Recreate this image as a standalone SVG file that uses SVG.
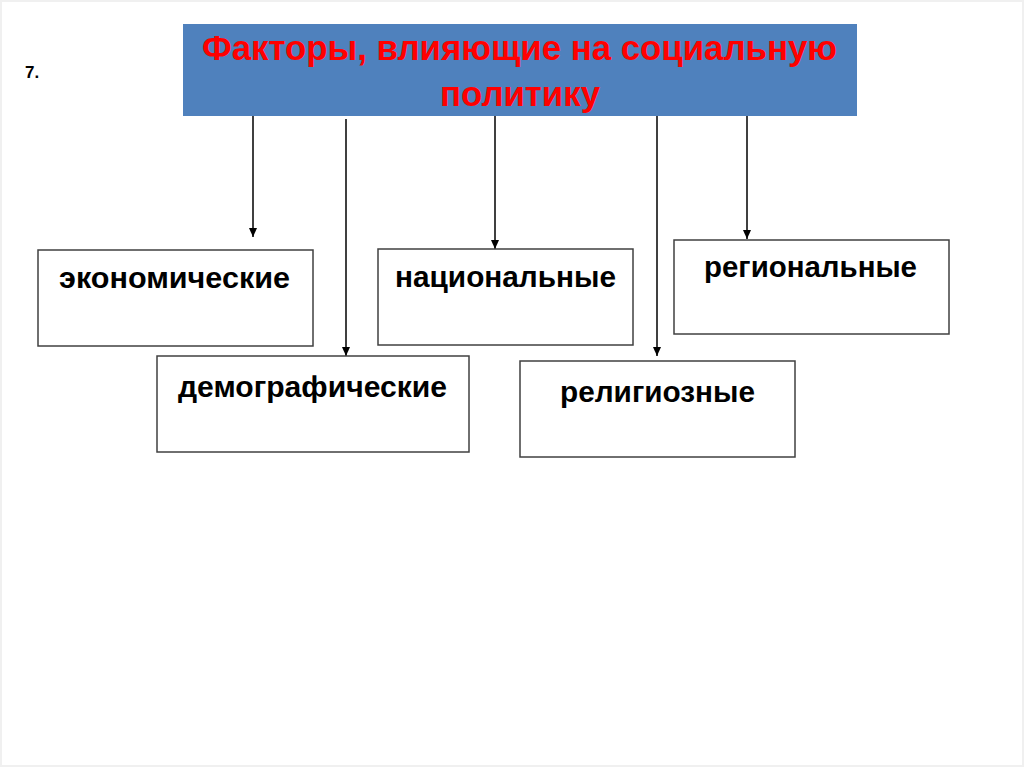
<svg xmlns="http://www.w3.org/2000/svg" width="1024" height="767" viewBox="0 0 1024 767">
<defs>
<marker id="ah" markerWidth="9" markerHeight="8" refX="9" refY="4" orient="auto" markerUnits="userSpaceOnUse" viewBox="0 0 9 8">
<path d="M0,0 L9,4 L0,8 Z" fill="#000"/>
</marker>
<style>
.box{fill:#fff;stroke:#404040;stroke-width:1.5}
.lbl{font-family:"Liberation Sans",Arial,sans-serif;font-weight:bold;font-size:30px;fill:#000}
.hdr{font-family:"Liberation Sans",Arial,sans-serif;font-weight:bold;font-size:35px;fill:#ff0000}
.con{stroke:#000;stroke-width:1.5;fill:none}
</style>
</defs>
<rect x="0" y="0" width="1024" height="767" fill="#fff"/>
<rect x="1" y="1" width="1022" height="765" fill="none" stroke="#f0f0f0" stroke-width="2"/>
<text x="25" y="78" font-family="Liberation Sans, Arial, sans-serif" font-weight="bold" font-size="17" fill="#000">7.</text>
<g id="header">
<rect x="183" y="24" width="674" height="92" fill="#4f81bd"/>
<text class="hdr" x="202" y="60" textLength="635" lengthAdjust="spacingAndGlyphs">Факторы, влияющие на социальную</text>
<text class="hdr" x="440" y="106" textLength="160" lengthAdjust="spacingAndGlyphs">политику</text>
</g>
<g id="connectors">
<line class="con" x1="253" y1="116" x2="253" y2="237" marker-end="url(#ah)"/>
<line class="con" x1="346" y1="119" x2="346" y2="356" marker-end="url(#ah)"/>
<line class="con" x1="495" y1="116" x2="495" y2="249" marker-end="url(#ah)"/>
<line class="con" x1="657" y1="116" x2="657" y2="356" marker-end="url(#ah)"/>
<line class="con" x1="747" y1="116" x2="747" y2="239" marker-end="url(#ah)"/>
</g>
<g id="economic">
<rect class="box" x="38" y="250" width="275" height="96"/>
<text class="lbl" x="59" y="288" textLength="231" lengthAdjust="spacingAndGlyphs">экономические</text>
</g>
<g id="national">
<rect class="box" x="378" y="249" width="255" height="96"/>
<text class="lbl" x="395" y="287" textLength="221" lengthAdjust="spacingAndGlyphs">национальные</text>
</g>
<g id="regional">
<rect class="box" x="674" y="240" width="275" height="94"/>
<text class="lbl" x="704" y="277" textLength="213" lengthAdjust="spacingAndGlyphs">региональные</text>
</g>
<g id="demographic">
<rect class="box" x="157" y="356" width="312" height="96"/>
<text class="lbl" x="178" y="397" textLength="269" lengthAdjust="spacingAndGlyphs">демографические</text>
</g>
<g id="religious">
<rect class="box" x="520" y="361" width="275" height="96"/>
<text class="lbl" x="560" y="402" textLength="195" lengthAdjust="spacingAndGlyphs">религиозные</text>
</g>
</svg>
